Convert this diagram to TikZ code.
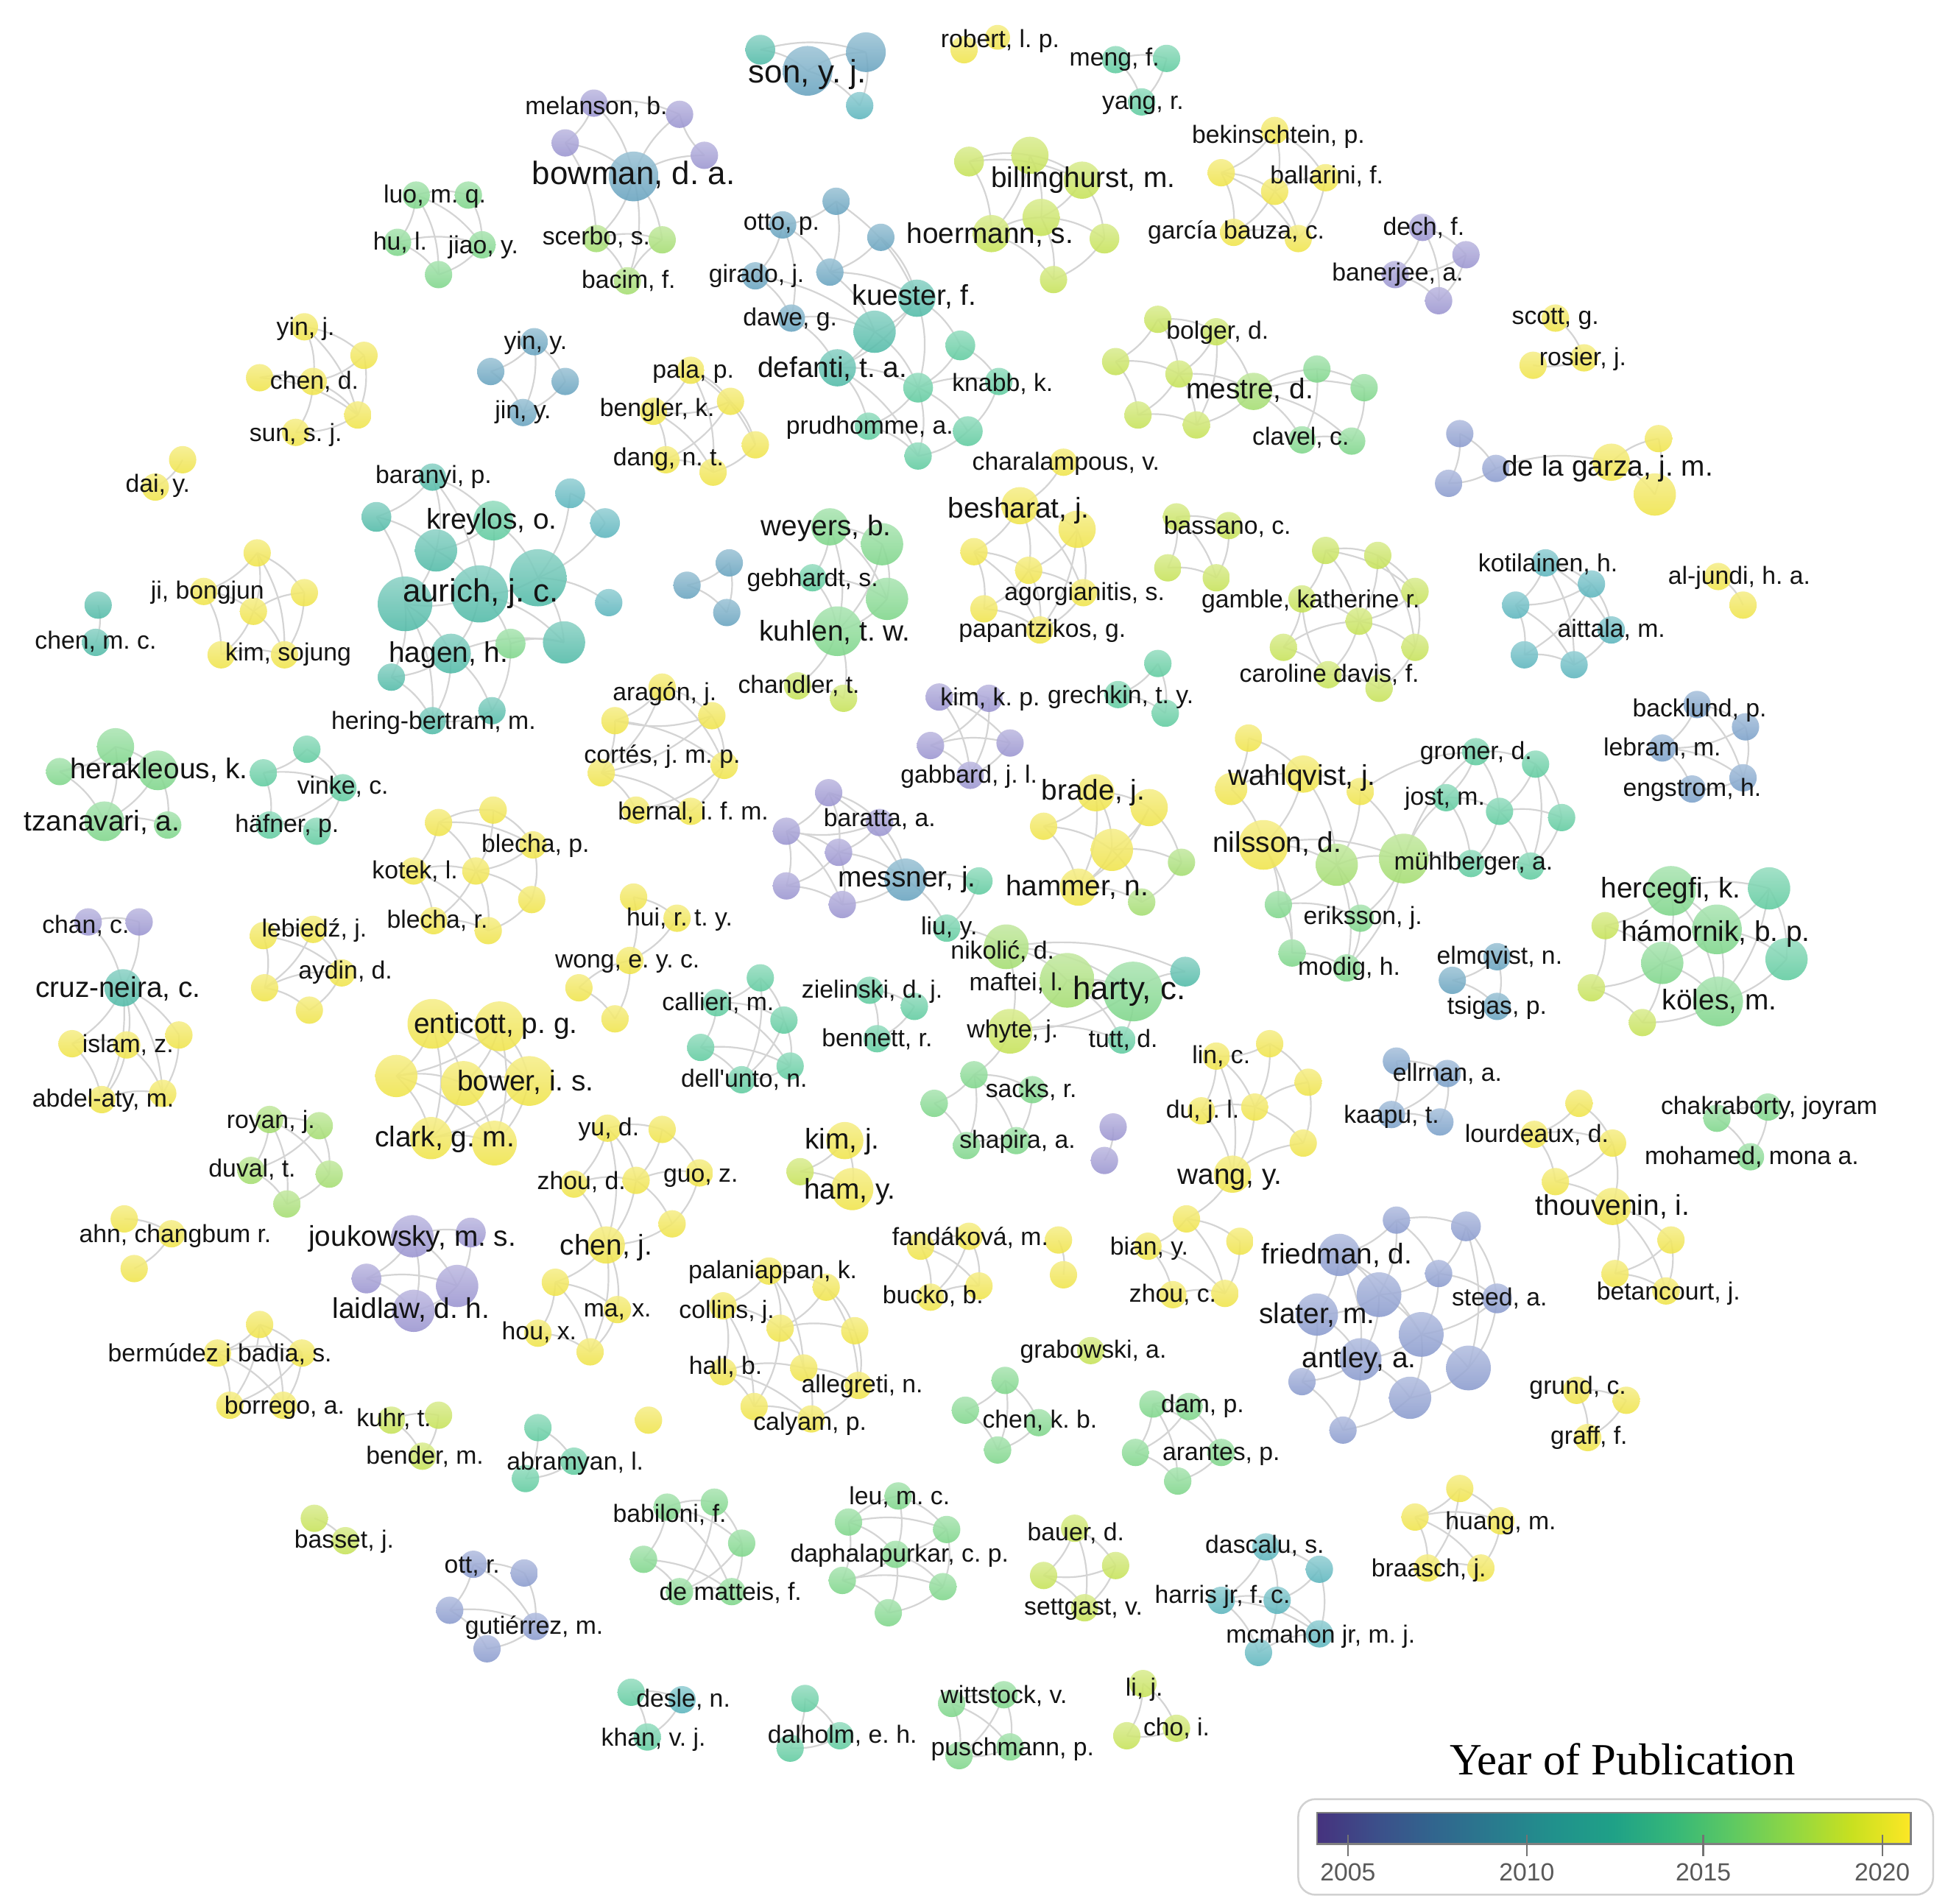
\documentclass[tikz,border=0pt]{standalone}
\usepackage{fontspec}
\newfontfamily\lsans{Liberation Sans}
\newfontfamily\lserif{Liberation Serif}
\pgfdeclarelayer{bg}
\pgfsetlayers{bg,main}
\definecolor{cP}{HTML}{9A94D0}
\definecolor{cSB}{HTML}{8A9BCE}
\definecolor{cB}{HTML}{7AA0C9}
\definecolor{cST}{HTML}{67A3BF}
\definecolor{cTB}{HTML}{5BB5BD}
\definecolor{cT}{HTML}{50BAA7}
\definecolor{cTG}{HTML}{5FCB9F}
\definecolor{cG}{HTML}{7ED68A}
\definecolor{cLG}{HTML}{A4DD70}
\definecolor{cL}{HTML}{C6E257}
\definecolor{cY}{HTML}{F0E44A}
\definecolor{vA}{HTML}{46327E}
\definecolor{vB}{HTML}{3C4F8A}
\definecolor{vC}{HTML}{31668E}
\definecolor{vD}{HTML}{297B8E}
\definecolor{vE}{HTML}{21918C}
\definecolor{vF}{HTML}{1FA187}
\definecolor{vG}{HTML}{35B779}
\definecolor{vH}{HTML}{5EC962}
\definecolor{vI}{HTML}{90D743}
\definecolor{vJ}{HTML}{C8E020}
\definecolor{vK}{HTML}{FDE725}
\pgfdeclarehorizontalshading{viridis}{100bp}{color(0bp)=(vA); color(25bp)=(vA); color(30bp)=(vB); color(35bp)=(vC); color(40bp)=(vD); color(45bp)=(vE); color(50bp)=(vF); color(55bp)=(vG); color(60bp)=(vH); color(65bp)=(vI); color(70bp)=(vJ); color(75bp)=(vK); color(100bp)=(vK)}
\newcommand\bb[4]{\node[bub,top color=#3!65!white,bottom color=#3,minimum size={2*#4pt}] (#1) at (#2) {};}
\newcommand\lb[4][lab]{\node[#1] (#2) at (#3) {#4};}
\newcommand\ee[1]{\foreach \a/\b in {#1} \draw[edge] (\a.center) to[bend left=16] (\b.center);}
\begin{document}
\frenchspacing
\begin{tikzpicture}[x=1pt,y=-1pt,
  bub/.style={circle,draw=none,inner sep=0pt,fill opacity=0.88},
  edge/.style={draw=black!17,line width=1.3pt},
  lab/.style={font=\lsans\fontsize{20}{20}\selectfont,text=black!92,inner sep=0pt,text height=14.4pt,text depth=4.2pt},
  labm/.style={lab,font=\lsans\fontsize{23}{23}\selectfont,text height=16.6pt,text depth=4.8pt},
  labl/.style={lab,font=\lsans\fontsize{26}{26}\selectfont,text height=18.7pt,text depth=5.5pt}]
\begin{pgfonlayer}{bg}
\fill[white] (0,0) rectangle (1568,1532);
\end{pgfonlayer}
\useasboundingbox (0,0) rectangle (1568,1532);
% ---------- bubbles ----------
\bb{son1}{612,40}{cT}{12}\bb{son2}{650,57}{cST}{20}\bb{son3}{697,42}{cST}{16}\bb{son4}{692,85}{cTB}{11}
\bb{rob1}{776,40}{cY}{11}\bb{rob2}{803,30}{cY}{10}
\bb{meng1}{898,48}{cTG}{11}\bb{meng2}{939,47}{cTG}{11}\bb{meng3}{919,82}{cTG}{11}
\bb{mel1}{478,83}{cP}{11}\bb{mel2}{455,115}{cP}{11}\bb{mel3}{510,142}{cST}{20}\bb{mel4}{567,125}{cP}{11}\bb{mel5}{547,92}{cP}{11}
\bb{mel6}{480,192}{cLG}{11}\bb{mel7}{505,226}{cLG}{11}\bb{mel8}{533,193}{cLG}{11}
\bb{luo1}{335,157}{cG}{11}\bb{luo2}{377,157}{cG}{11}\bb{luo3}{320,195}{cG}{11}\bb{luo4}{388,197}{cG}{11}\bb{luo5}{353,221}{cG}{11}
\bb{yj1}{245,263}{cY}{11}\bb{yj2}{293,286}{cY}{11}\bb{yj3}{209,304}{cY}{11}\bb{yj4}{252,307}{cY}{11}\bb{yj5}{288,334}{cY}{11}\bb{yj6}{238,348}{cY}{11}
\bb{yy1}{430,275}{cST}{11}\bb{yy2}{395,299}{cST}{11}\bb{yy3}{455,307}{cST}{11}\bb{yy4}{421,332}{cST}{11}
\bb{dai1}{147,370}{cY}{11}\bb{dai2}{125,392}{cY}{11}
\bb{ku1}{673,162}{cST}{11}\bb{ku2}{630,181}{cST}{11}\bb{ku3}{709,191}{cST}{11}\bb{ku4}{608,222}{cST}{11}\bb{ku5}{668,219}{cST}{11}
\bb{ku6}{738,240}{cT}{15}\bb{ku7}{637,256}{cST}{11}\bb{ku8}{704,267}{cT}{17}\bb{ku9}{674,296}{cT}{15}\bb{ku10}{773,278}{cTG}{12}
\bb{ku11}{739,312}{cTG}{12}\bb{ku12}{804,307}{cTG}{11}\bb{ku13}{699,343}{cTG}{11}\bb{ku14}{779,347}{cTG}{12}\bb{ku15}{739,367}{cTG}{11}
\bb{pa1}{556,298}{cY}{11}\bb{pa2}{588,323}{cY}{11}\bb{pa3}{526,331}{cY}{11}\bb{pa4}{608,358}{cY}{11}\bb{pa5}{536,370}{cY}{11}\bb{pa6}{574,380}{cY}{11}
\bb{bi1}{780,130}{cL}{12}\bb{bi2}{829,125}{cL}{15}\bb{bi3}{871,145}{cL}{15}\bb{bi4}{798,188}{cL}{15}\bb{bi5}{838,175}{cL}{15}\bb{bi6}{889,192}{cL}{12}\bb{bi7}{848,225}{cL}{11}
\bb{be1}{1026,105}{cY}{11}\bb{be2}{983,139}{cY}{11}\bb{be3}{1026,154}{cY}{11}\bb{be4}{1067,143}{cY}{11}\bb{be5}{993,187}{cY}{11}\bb{be6}{1045,192}{cY}{11}
\bb{de1}{1145,183}{cP}{11}\bb{de2}{1180,205}{cP}{11}\bb{de3}{1123,221}{cP}{11}\bb{de4}{1158,242}{cP}{11}
\bb{sc1}{1252,256}{cY}{11}\bb{sc2}{1275,288}{cY}{11}\bb{sc3}{1234,294}{cY}{11}
\bb{ga1}{1175,349}{cSB}{11}\bb{ga2}{1204,377}{cSB}{11}\bb{ga3}{1166,389}{cSB}{11}\bb{ga4}{1297,372}{cY}{15}\bb{ga5}{1335,353}{cY}{11}\bb{ga6}{1332,398}{cY}{17}
\bb{mo1}{932,257}{cL}{11}\bb{mo2}{979,267}{cL}{11}\bb{mo3}{898,291}{cL}{11}\bb{mo4}{949,301}{cL}{11}\bb{mo5}{1009,315}{cLG}{15}\bb{mo6}{916,334}{cL}{11}
\bb{mo7}{963,342}{cL}{11}\bb{mo8}{1060,297}{cG}{11}\bb{mo9}{1098,312}{cG}{11}\bb{mo10}{1048,354}{cG}{11}\bb{mo11}{1088,355}{cG}{11}
\bb{ch1}{856,372}{cY}{11}
\bb{au1}{348,384}{cT}{11}\bb{au2}{303,416}{cT}{12}\bb{au3}{397,419}{cTG}{16}\bb{au4}{459,397}{cTB}{12}\bb{au5}{487,421}{cTB}{12}\bb{au6}{351,443}{cT}{17}
\bb{au7}{433,465}{cT}{23}\bb{au8}{386,478}{cT}{23}\bb{au9}{326,486}{cT}{22}\bb{au10}{490,485}{cTB}{11}\bb{au11}{411,518}{cG}{12}\bb{au12}{363,526}{cT}{16}
\bb{au13}{454,517}{cT}{17}\bb{au14}{315,545}{cT}{11}\bb{au15}{396,572}{cT}{11}\bb{au16}{348,580}{cT}{11}
\bb{ji1}{207,445}{cY}{11}\bb{ji2}{164,476}{cY}{11}\bb{ji3}{204,492}{cY}{11}\bb{ji4}{245,477}{cY}{11}\bb{ji5}{178,527}{cY}{11}\bb{ji6}{229,527}{cY}{11}
\bb{cm1}{79,487}{cT}{11}\bb{cm2}{77,517}{cT}{11}
\bb{he1}{93,601}{cG}{15}\bb{he2}{48,621}{cG}{11}\bb{he3}{127,620}{cG}{16}\bb{he4}{84,661}{cG}{16}\bb{he5}{135,664}{cG}{11}
\bb{vi1}{247,603}{cTG}{11}\bb{vi2}{212,622}{cTG}{11}\bb{vi3}{276,634}{cTG}{11}\bb{vi4}{217,664}{cTG}{11}\bb{vi5}{255,669}{cTG}{11}
\bb{bl1}{353,662}{cY}{11}\bb{bl2}{397,652}{cY}{11}\bb{bl3}{429,680}{cY}{11}\bb{bl4}{333,701}{cY}{11}\bb{bl5}{383,701}{cY}{11}\bb{bl6}{428,724}{cY}{11}\bb{bl7}{349,741}{cY}{11}\bb{bl8}{393,749}{cY}{11}
\bb{chn1}{71,742}{cP}{11}\bb{chn2}{112,742}{cP}{11}
\bb{le1}{212,753}{cY}{11}\bb{le2}{252,748}{cY}{11}\bb{le3}{213,795}{cY}{11}\bb{le4}{275,783}{cY}{11}\bb{le5}{249,813}{cY}{11}
\bb{cz1}{99,795}{cT}{15}\bb{cz2}{58,840}{cY}{11}\bb{cz3}{102,841}{cY}{11}\bb{cz4}{144,833}{cY}{11}\bb{cz5}{82,885}{cY}{11}\bb{cz6}{131,880}{cY}{11}
\bb{wo1}{510,722}{cY}{11}\bb{wo2}{545,739}{cY}{11}\bb{wo3}{466,795}{cY}{11}\bb{wo4}{507,773}{cY}{11}\bb{wo5}{495,820}{cY}{11}
\bb{en1}{348,824}{cY}{20}\bb{en2}{402,826}{cY}{20}\bb{en3}{319,866}{cY}{17}\bb{en4}{373,872}{cY}{18}\bb{en5}{426,870}{cY}{20}\bb{en6}{347,916}{cY}{17}\bb{en7}{398,920}{cY}{18}
\bb{ro1}{217,901}{cLG}{11}\bb{ro2}{257,906}{cLG}{11}\bb{ro3}{202,942}{cLG}{11}\bb{ro4}{265,945}{cLG}{11}\bb{ro5}{231,969}{cLG}{11}
\bb{ah1}{100,981}{cY}{11}\bb{ah2}{138,993}{cY}{11}\bb{ah3}{108,1021}{cY}{11}
\bb{jo1}{332,995}{cP}{17}\bb{jo2}{379,992}{cP}{12}\bb{jo3}{295,1029}{cP}{12}\bb{jo4}{368,1035}{cP}{17}\bb{jo5}{333,1055}{cP}{17}
\bb{bm1}{209,1066}{cY}{11}\bb{bm2}{175,1089}{cY}{11}\bb{bm3}{243,1089}{cY}{11}\bb{bm4}{185,1131}{cY}{11}\bb{bm5}{228,1131}{cY}{11}
\bb{kh1}{315,1143}{cL}{11}\bb{kh2}{353,1139}{cL}{11}\bb{kh3}{340,1172}{cL}{11}
\bb{ab1}{433,1149}{cTG}{11}\bb{ab2}{462,1176}{cTG}{11}\bb{ab3}{423,1190}{cTG}{11}
\bb{sy1}{522,1143}{cY}{11}
\bb{bt1}{253,1222}{cL}{11}\bb{bt2}{278,1240}{cL}{11}
\bb{ot1}{381,1259}{cSB}{11}\bb{ot2}{422,1266}{cSB}{11}\bb{ot3}{362,1296}{cSB}{11}\bb{ot4}{431,1309}{cSB}{11}\bb{ot5}{392,1327}{cSB}{11}
\bb{ds1}{508,1362}{cTG}{11}\bb{ds2}{549,1368}{cTB}{11}\bb{ds3}{521,1398}{cTG}{11}
\bb{dh1}{648,1367}{cTG}{11}\bb{dh2}{676,1397}{cTG}{11}\bb{dh3}{636,1407}{cTG}{11}
\bb{wi1}{766,1371}{cG}{11}\bb{wi2}{808,1364}{cG}{11}\bb{wi3}{813,1406}{cG}{11}\bb{wi4}{772,1413}{cG}{11}
\bb{li1}{920,1355}{cL}{11}\bb{li2}{947,1391}{cL}{11}\bb{li3}{907,1397}{cL}{11}
\bb{ba1}{537,1213}{cG}{11}\bb{ba2}{575,1209}{cG}{11}\bb{ba3}{597,1242}{cG}{11}\bb{ba4}{518,1255}{cG}{11}\bb{ba5}{547,1281}{cG}{11}\bb{ba6}{589,1281}{cG}{11}
\bb{lu1}{683,1225}{cG}{11}\bb{lu2}{723,1204}{cG}{11}\bb{lu3}{762,1231}{cG}{11}\bb{lu4}{721,1251}{cG}{11}\bb{lu5}{678,1272}{cG}{11}\bb{lu6}{759,1277}{cG}{11}\bb{lu7}{715,1298}{cG}{11}
\bb{bu1}{865,1230}{cL}{11}\bb{bu2}{898,1260}{cL}{11}\bb{bu3}{840,1268}{cL}{11}\bb{bu4}{873,1294}{cL}{11}
\bb{dc1}{1019,1245}{cTB}{11}\bb{dc2}{983,1288}{cTB}{11}\bb{dc3}{1028,1288}{cTB}{11}\bb{dc4}{1062,1263}{cTB}{11}\bb{dc5}{1013,1330}{cTB}{11}\bb{dc6}{1062,1315}{cTB}{11}
\bb{hu1}{1175,1198}{cY}{11}\bb{hu2}{1139,1221}{cY}{11}\bb{hu3}{1208,1224}{cY}{11}\bb{hu4}{1149,1262}{cY}{11}\bb{hu5}{1192,1262}{cY}{11}
\bb{gr1}{1269,1119}{cY}{11}\bb{gr2}{1309,1127}{cY}{11}\bb{gr3}{1278,1157}{cY}{11}
\bb{fr1}{1124,982}{cSB}{11}\bb{fr2}{1180,987}{cSB}{12}\bb{fr3}{1078,1010}{cSB}{17}\bb{fr4}{1158,1025}{cSB}{11}\bb{fr5}{1110,1042}{cSB}{18}
\bb{fr6}{1205,1045}{cSB}{12}\bb{fr7}{1060,1058}{cSB}{17}\bb{fr8}{1144,1074}{cSB}{18}\bb{fr9}{1095,1094}{cSB}{17}\bb{fr10}{1182,1101}{cSB}{18}
\bb{fr11}{1048,1112}{cSB}{11}\bb{fr12}{1135,1125}{cSB}{17}\bb{fr13}{1081,1151}{cSB}{11}
\bb{lo1}{1271,888}{cY}{11}\bb{lo2}{1235,913}{cY}{11}\bb{lo3}{1298,920}{cY}{11}\bb{lo4}{1252,951}{cY}{11}\bb{lo5}{1298,971}{cY}{15}\bb{lo6}{1345,998}{cY}{11}\bb{lo7}{1300,1025}{cY}{11}\bb{lo8}{1341,1039}{cY}{11}
\bb{ck1}{1382,900}{cG}{11}\bb{ck2}{1423,891}{cG}{11}\bb{ck3}{1409,931}{cG}{11}
\bb{el1}{1124,854}{cB}{11}\bb{el2}{1165,864}{cB}{11}\bb{el3}{1120,897}{cB}{11}\bb{el4}{1159,903}{cB}{11}
\bb{em1}{1205,770}{cST}{11}\bb{em2}{1169,789}{cST}{11}\bb{em3}{1205,810}{cST}{11}
\bb{hc1}{1345,717}{cG}{20}\bb{hc2}{1424,715}{cTG}{17}\bb{hc3}{1292,745}{cL}{11}\bb{hc4}{1382,748}{cG}{20}\bb{hc5}{1338,775}{cG}{17}
\bb{hc6}{1438,772}{cTG}{17}\bb{hc7}{1281,795}{cL}{11}\bb{hc8}{1383,806}{cG}{20}\bb{hc9}{1322,823}{cL}{11}
\bb{bk1}{1366,567}{cB}{11}\bb{bk2}{1405,585}{cB}{11}\bb{bk3}{1338,602}{cB}{11}\bb{bk4}{1403,626}{cB}{11}\bb{bk5}{1362,635}{cB}{11}
\bb{kt1}{1244,453}{cTB}{11}\bb{kt2}{1281,470}{cTB}{11}\bb{kt3}{1220,487}{cTB}{11}\bb{kt4}{1297,507}{cTB}{11}\bb{kt5}{1227,527}{cTB}{11}\bb{kt6}{1267,535}{cTB}{11}
\bb{aj1}{1383,464}{cY}{11}\bb{aj2}{1403,487}{cY}{11}
\bb{gm1}{1067,443}{cL}{11}\bb{gm2}{1109,447}{cL}{11}\bb{gm3}{1139,476}{cL}{11}\bb{gm4}{1094,500}{cL}{11}\bb{gm5}{1139,521}{cL}{11}
\bb{gm6}{1069,543}{cL}{11}\bb{gm7}{1110,554}{cL}{11}\bb{gm8}{1048,482}{cL}{11}\bb{gm9}{1033,521}{cL}{11}
\bb{bs1}{947,416}{cL}{11}\bb{bs2}{989,423}{cL}{11}\bb{bs3}{940,457}{cL}{11}\bb{bs4}{979,465}{cL}{11}
\bb{wy1}{668,424}{cG}{15}\bb{wy2}{710,438}{cG}{17}\bb{wy3}{654,465}{cTG}{11}\bb{wy4}{714,482}{cG}{17}\bb{wy5}{674,508}{cG}{20}\bb{wy6}{642,552}{cL}{11}\bb{wy7}{679,562}{cL}{11}
\bb{tr1}{587,453}{cST}{11}\bb{tr2}{553,471}{cST}{11}\bb{tr3}{585,493}{cST}{11}
\bb{bh1}{821,407}{cY}{15}\bb{bh2}{867,426}{cY}{15}\bb{bh3}{784,444}{cY}{11}\bb{bh4}{828,459}{cY}{11}\bb{bh5}{872,477}{cY}{11}\bb{bh6}{792,490}{cY}{11}\bb{bh7}{837,507}{cY}{11}
\bb{gk1}{932,534}{cTG}{11}\bb{gk2}{900,559}{cTG}{11}\bb{gk3}{938,574}{cTG}{11}
\bb{kp1}{756,561}{cP}{11}\bb{kp2}{796,562}{cP}{11}\bb{kp3}{749,600}{cP}{11}\bb{kp4}{813,598}{cP}{11}\bb{kp5}{781,624}{cP}{11}
\bb{ar1}{533,553}{cY}{11}\bb{ar2}{573,576}{cY}{11}\bb{ar3}{495,580}{cY}{11}\bb{ar4}{484,622}{cY}{11}\bb{ar5}{583,616}{cY}{11}\bb{ar6}{512,652}{cY}{11}\bb{ar7}{556,653}{cY}{11}
\bb{br1}{667,638}{cP}{11}\bb{br2}{708,662}{cP}{11}\bb{br3}{633,669}{cP}{11}\bb{br4}{675,686}{cP}{11}\bb{br5}{729,708}{cST}{17}
\bb{br6}{633,713}{cP}{11}\bb{br7}{678,728}{cP}{11}\bb{br8}{788,709}{cTG}{11}\bb{br9}{762,747}{cTG}{11}
\bb{bd1}{882,638}{cY}{15}\bb{bd2}{925,650}{cY}{15}\bb{bd3}{840,665}{cY}{11}\bb{bd4}{895,684}{cY}{17}\bb{bd5}{951,694}{cLG}{11}\bb{bd6}{868,714}{cY}{15}\bb{bd7}{919,726}{cLG}{11}
\bb{ni1}{1005,594}{cY}{11}\bb{ni2}{991,635}{cY}{13}\bb{ni3}{1049,623}{cY}{15}\bb{ni4}{1095,637}{cY}{11}\bb{ni5}{1017,680}{cY}{20}\bb{ni6}{1076,696}{cLG}{17}
\bb{ni7}{1130,691}{cLG}{20}\bb{ni8}{1029,728}{cG}{11}\bb{ni9}{1095,739}{cG}{11}\bb{ni10}{1040,767}{cG}{11}\bb{ni11}{1084,779}{cG}{11}
\bb{go1}{1188,605}{cTG}{11}\bb{go2}{1236,615}{cTG}{11}\bb{go3}{1164,642}{cTG}{11}\bb{go4}{1207,653}{cTG}{11}\bb{go5}{1257,658}{cTG}{11}\bb{go6}{1184,695}{cTG}{11}\bb{go7}{1232,697}{cTG}{11}
\bb{ha1}{810,762}{cLG}{18}\bb{ha2}{859,789}{cLG}{22}\bb{ha3}{912,798}{cG}{24}\bb{ha4}{954,782}{cT}{12}\bb{ha5}{813,830}{cL}{18}\bb{ha6}{903,837}{cTG}{11}
\bb{sk1}{784,865}{cG}{11}\bb{sk2}{752,888}{cG}{11}\bb{sk3}{831,877}{cG}{11}\bb{sk4}{778,922}{cG}{11}\bb{sk5}{818,918}{cG}{11}
\bb{pp1}{896,907}{cP}{11}\bb{pp2}{889,934}{cP}{11}
\bb{zi1}{700,797}{cTG}{11}\bb{zi2}{736,810}{cTG}{11}\bb{zi3}{706,836}{cTG}{11}
\bb{ca1}{612,787}{cTG}{11}\bb{ca2}{577,807}{cTG}{11}\bb{ca3}{631,821}{cTG}{11}\bb{ca4}{564,843}{cTG}{11}\bb{ca5}{636,858}{cTG}{11}\bb{ca6}{597,869}{cTG}{11}
\bb{kj1}{680,918}{cY}{15}\bb{kj2}{644,943}{cL}{11}\bb{kj3}{686,957}{cY}{17}
\bb{gu1}{489,908}{cY}{11}\bb{gu2}{533,909}{cY}{11}\bb{gu3}{462,953}{cY}{11}\bb{gu4}{512,950}{cY}{11}\bb{gu5}{563,944}{cY}{11}\bb{gu6}{541,985}{cY}{11}
\bb{gu7}{488,1002}{cY}{15}\bb{gu8}{447,1032}{cY}{11}\bb{gu9}{497,1054}{cY}{11}\bb{gu10}{433,1073}{cY}{11}\bb{gu11}{475,1088}{cY}{11}
\bb{fa1}{741,1003}{cY}{11}\bb{fa2}{780,995}{cY}{11}\bb{fa3}{852,998}{cY}{11}\bb{fa4}{856,1026}{cY}{11}\bb{fa5}{749,1044}{cY}{11}\bb{fa6}{788,1035}{cY}{11}
\bb{pl1}{619,1023}{cY}{11}\bb{pl2}{665,1036}{cY}{11}\bb{pl3}{582,1051}{cY}{11}\bb{pl4}{628,1069}{cY}{11}\bb{pl5}{688,1071}{cY}{11}
\bb{pl6}{582,1104}{cY}{11}\bb{pl7}{647,1101}{cY}{11}\bb{pl8}{691,1115}{cY}{11}\bb{pl9}{607,1132}{cY}{11}\bb{pl10}{653,1142}{cY}{11}
\bb{gb1}{878,1087}{cL}{11}
\bb{kb1}{809,1111}{cG}{11}\bb{kb2}{777,1135}{cG}{11}\bb{kb3}{836,1145}{cG}{11}\bb{kb4}{803,1167}{cG}{11}
\bb{dm1}{928,1130}{cG}{11}\bb{dm2}{957,1132}{cG}{11}\bb{dm3}{914,1169}{cG}{11}\bb{dm4}{983,1169}{cG}{11}\bb{dm5}{948,1192}{cG}{11}
\bb{lw1}{1022,840}{cY}{11}\bb{lw2}{979,850}{cY}{11}\bb{lw3}{967,894}{cY}{11}\bb{lw4}{1010,891}{cY}{11}\bb{lw5}{992,945}{cY}{15}\bb{lw6}{1053,871}{cY}{11}\bb{lw7}{1049,920}{cY}{11}
\bb{bn1}{955,981}{cY}{11}\bb{bn2}{924,1003}{cY}{11}\bb{bn3}{998,999}{cY}{11}\bb{bn4}{944,1042}{cY}{11}\bb{bn5}{986,1041}{cY}{11}
% ---------- connectors ----------
\begin{pgfonlayer}{bg}
\ee{son1/son2,son2/son3,son2/son4,son3/son4,son1/son3}
\ee{rob1/rob2,meng1/meng2,meng1/meng3,meng2/meng3}
\ee{mel1/mel2,mel1/mel3,mel2/mel3,mel3/mel4,mel3/mel5,mel1/mel5,mel4/mel5,mel3/mel6,mel3/mel7,mel3/mel8,mel6/mel7,mel6/mel8,mel7/mel8,mel2/mel6}
\ee{luo1/luo2,luo1/luo3,luo1/luo4,luo3/luo5,luo4/luo5,luo2/luo4,luo1/luo5,luo3/luo4}
\ee{yj1/yj4,yj1/yj5,yj2/yj4,yj2/yj5,yj3/yj4,yj3/yj5,yj4/yj5,yj4/yj6,yj5/yj6,yj1/yj2}
\ee{yy1/yy2,yy1/yy4,yy2/yy4,yy3/yy4,yy1/yy3,dai1/dai2}
\ee{ku1/ku2,ku1/ku5,ku1/ku6,ku2/ku4,ku2/ku5,ku2/ku7,ku3/ku6,ku3/ku5,ku4/ku7,ku4/ku8,ku5/ku8,ku5/ku6,ku6/ku8,ku6/ku9,ku6/ku10,ku7/ku8,ku7/ku9,ku8/ku9,ku8/ku11,ku9/ku13,ku9/ku11,ku10/ku11,ku10/ku12,ku11/ku12,ku11/ku13,ku11/ku14,ku12/ku14,ku13/ku15,ku14/ku15,ku11/ku15,ku6/ku11,ku9/ku15}
\ee{pa1/pa2,pa1/pa3,pa1/pa4,pa2/pa3,pa2/pa4,pa2/pa5,pa3/pa5,pa3/pa6,pa4/pa6,pa5/pa6,pa1/pa6}
\ee{bi1/bi2,bi2/bi3,bi1/bi4,bi2/bi5,bi3/bi5,bi4/bi5,bi5/bi6,bi3/bi6,bi4/bi7,bi5/bi7,bi6/bi7,bi1/bi3,bi2/bi4}
\ee{be1/be2,be1/be3,be1/be4,be2/be3,be2/be5,be3/be4,be3/be5,be3/be6,be4/be6,be5/be6,be2/be6}
\ee{de1/de2,de1/de3,de1/de4,de2/de3,de2/de4,de3/de4,sc1/sc2,sc2/sc3}
\ee{ga1/ga2,ga2/ga3,ga1/ga3,ga2/ga4,ga4/ga5,ga4/ga6,ga5/ga6}
\ee{mo1/mo2,mo1/mo3,mo1/mo4,mo2/mo4,mo2/mo5,mo3/mo4,mo3/mo6,mo4/mo5,mo4/mo6,mo4/mo7,mo5/mo7,mo6/mo7,mo5/mo8,mo5/mo9,mo5/mo10,mo5/mo11,mo8/mo9,mo9/mo11,mo10/mo11,mo8/mo10,mo2/mo7}
\ee{au1/au2,au1/au3,au1/au6,au1/au8,au2/au6,au2/au9,au3/au6,au3/au7,au3/au8,au4/au5,au4/au7,au5/au7,au6/au8,au6/au9,au7/au8,au7/au10,au7/au13,au8/au9,au8/au11,au8/au12,au8/au13,au9/au12,au9/au14,au11/au13,au12/au13,au12/au14,au12/au15,au12/au16,au14/au16,au15/au16,au9/au16,au11/au15}
\ee{ji1/ji2,ji1/ji3,ji1/ji4,ji2/ji3,ji3/ji4,ji3/ji5,ji3/ji6,ji4/ji6,ji5/ji6,ji2/ji5,ji1/ji6,cm1/cm2}
\ee{he1/he2,he1/he3,he1/he4,he2/he4,he3/he4,he3/he5,he4/he5,he2/he3}
\ee{vi1/vi2,vi1/vi3,vi2/vi4,vi2/vi3,vi3/vi5,vi4/vi5,vi3/vi4}
\ee{bl1/bl2,bl1/bl4,bl1/bl5,bl2/bl3,bl2/bl5,bl3/bl5,bl3/bl6,bl4/bl5,bl4/bl7,bl5/bl6,bl5/bl7,bl5/bl8,bl6/bl8,bl7/bl8,bl1/bl3,bl4/bl8}
\ee{chn1/chn2,chn1/cz1,chn2/cz1}
\ee{le1/le2,le1/le3,le2/le4,le3/le5,le4/le5,le1/le4,le2/le3,le3/le4}
\ee{cz1/cz2,cz1/cz3,cz1/cz4,cz1/cz5,cz1/cz6,cz2/cz3,cz2/cz5,cz3/cz5,cz3/cz6,cz4/cz6,cz5/cz6}
\ee{wo1/wo2,wo1/wo4,wo2/wo4,wo3/wo4,wo4/wo5,wo3/wo5}
\ee{en1/en2,en1/en3,en1/en4,en1/en5,en2/en4,en2/en5,en2/en3,en3/en4,en3/en6,en3/en7,en4/en5,en4/en6,en4/en7,en5/en7,en6/en7,en1/en6,en2/en7,en5/en6}
\ee{ro1/ro2,ro1/ro3,ro1/ro4,ro2/ro3,ro2/ro4,ro3/ro5,ro4/ro5,ro1/ro5,ah1/ah2,ah2/ah3}
\ee{jo1/jo2,jo1/jo3,jo1/jo4,jo1/jo5,jo2/jo4,jo3/jo5,jo4/jo5,jo3/jo4}
\ee{bm1/bm2,bm1/bm3,bm2/bm3,bm2/bm4,bm2/bm5,bm3/bm4,bm3/bm5,bm4/bm5,bm1/bm4,bm1/bm5}
\ee{kh1/kh3,kh2/kh3,kh1/kh2,ab1/ab2,ab1/ab3,ab2/ab3,bt1/bt2}
\ee{ot1/ot2,ot1/ot3,ot1/ot4,ot2/ot4,ot3/ot4,ot3/ot5,ot4/ot5}
\ee{ds1/ds2,ds1/ds3,ds2/ds3,dh1/dh2,dh1/dh3,dh2/dh3}
\ee{wi1/wi2,wi2/wi3,wi1/wi3,wi1/wi4,wi3/wi4,wi2/wi4,li1/li2,li1/li3,li2/li3}
\ee{ba1/ba2,ba1/ba4,ba2/ba3,ba1/ba3,ba3/ba6,ba4/ba5,ba5/ba6,ba4/ba6,ba2/ba5,ba1/ba6,ba3/ba5}
\ee{lu1/lu2,lu1/lu4,lu2/lu4,lu3/lu4,lu4/lu5,lu4/lu6,lu4/lu7,lu2/lu3,lu1/lu5,lu3/lu6,lu5/lu7,lu6/lu7,lu1/lu3,lu5/lu6}
\ee{bu1/bu2,bu1/bu3,bu1/bu4,bu2/bu4,bu3/bu4,bu2/bu3}
\ee{dc1/dc2,dc1/dc3,dc1/dc4,dc2/dc3,dc2/dc5,dc3/dc5,dc3/dc6,dc4/dc6,dc5/dc6,dc4/dc3,dc2/dc6}
\ee{hu1/hu2,hu1/hu3,hu1/hu4,hu2/hu3,hu2/hu4,hu3/hu5,hu4/hu5,hu2/hu5,gr1/gr3,gr2/gr3,gr1/gr2}
\ee{fr1/fr2,fr1/fr3,fr1/fr4,fr1/fr5,fr2/fr4,fr2/fr6,fr3/fr5,fr3/fr7,fr4/fr5,fr4/fr6,fr4/fr8,fr5/fr7,fr5/fr8,fr5/fr9,fr6/fr8,fr6/fr10,fr7/fr9,fr7/fr11,fr8/fr9,fr8/fr10,fr8/fr12,fr9/fr11,fr9/fr12,fr9/fr13,fr10/fr12,fr11/fr13,fr12/fr13,fr3/fr8,fr2/fr10,fr3/fr9}
\ee{lo1/lo2,lo1/lo3,lo2/lo4,lo3/lo4,lo2/lo3,lo3/lo5,lo4/lo5,lo5/lo6,lo5/lo7,lo5/lo8,lo6/lo8,lo7/lo8,lo6/lo7}
\ee{ck1/ck2,ck2/ck3,ck1/ck3,el1/el2,el1/el3,el2/el3,el2/el4,el3/el4,em1/em2,em1/em3,em2/em3}
\ee{hc1/hc2,hc1/hc4,hc1/hc5,hc1/hc3,hc2/hc4,hc2/hc6,hc4/hc5,hc4/hc6,hc4/hc8,hc5/hc8,hc5/hc7,hc5/hc9,hc6/hc8,hc7/hc9,hc8/hc9,hc3/hc7,hc3/hc5,hc2/hc8,hc1/hc8}
\ee{bk1/bk2,bk1/bk3,bk2/bk4,bk3/bk5,bk4/bk5,bk1/bk4,bk2/bk3,bk3/bk4}
\ee{kt1/kt2,kt1/kt3,kt1/kt4,kt2/kt3,kt2/kt4,kt3/kt5,kt4/kt6,kt5/kt6,kt3/kt6,kt1/kt6,kt2/kt5,aj1/aj2}
\ee{gm1/gm2,gm1/gm8,gm1/gm4,gm2/gm3,gm2/gm4,gm3/gm4,gm3/gm5,gm4/gm5,gm4/gm6,gm4/gm7,gm5/gm7,gm6/gm7,gm8/gm9,gm8/gm4,gm9/gm6,gm6/gm8,gm2/gm5,gm1/gm3,gm9/gm4}
\ee{bs1/bs2,bs1/bs3,bs2/bs4,bs3/bs4,bs1/bs4}
\ee{wy1/wy2,wy1/wy3,wy1/wy4,wy1/wy5,wy2/wy4,wy2/wy5,wy3/wy5,wy4/wy5,wy5/wy6,wy5/wy7,wy6/wy7,wy3/wy4,tr1/tr2,tr2/tr3,tr1/tr3}
\ee{bh1/bh2,bh1/bh3,bh1/bh4,bh1/bh5,bh2/bh4,bh2/bh5,bh3/bh4,bh3/bh6,bh4/bh5,bh4/bh6,bh4/bh7,bh5/bh7,bh6/bh7,bh3/bh7,bh2/bh7,ch1/bh1}
\ee{gk1/gk2,gk2/gk3,gk1/gk3}
\ee{kp1/kp5,kp2/kp5,kp3/kp4,kp1/kp4,kp2/kp3,kp3/kp5,kp4/kp5,kp1/kp2}
\ee{ar1/ar2,ar1/ar3,ar1/ar4,ar1/ar5,ar2/ar5,ar2/ar3,ar3/ar4,ar4/ar6,ar4/ar7,ar5/ar7,ar5/ar6,ar6/ar7,ar3/ar5,ar2/ar4}
\ee{br1/br2,br1/br3,br1/br4,br2/br4,br2/br5,br3/br4,br3/br6,br4/br5,br4/br6,br4/br7,br5/br7,br6/br7,br5/br8,br5/br9,br8/br9,br3/br7,br2/br3,br1/br5,br9/ha1}
\ee{bd1/bd2,bd1/bd3,bd1/bd4,bd1/bd6,bd2/bd4,bd2/bd5,bd3/bd4,bd3/bd6,bd4/bd6,bd4/bd7,bd4/bd5,bd5/bd7,bd6/bd7,bd2/bd6}
\ee{ni1/ni3,ni1/ni2,ni2/ni3,ni2/ni5,ni3/ni5,ni3/ni4,ni3/ni6,ni4/ni6,ni4/ni7,ni5/ni6,ni5/ni7,ni5/ni8,ni6/ni7,ni6/ni9,ni6/ni8,ni7/ni9,ni8/ni10,ni9/ni11,ni10/ni11,ni8/ni9,ni5/ni10,ni7/ni11,ni6/ni11}
\ee{go1/go2,go1/go3,go1/go4,go2/go4,go2/go5,go2/go7,go3/go4,go3/go6,go4/go6,go4/go7,go5/go7,go6/go7,go4/go5,ni7/go3,ni7/go6,ni7/go1,ni4/go1}
\ee{ha1/ha2,ha1/ha3,ha1/ha5,ha2/ha3,ha2/ha5,ha2/ha6,ha3/ha4,ha3/ha6,ha3/ha5,ha5/ha6,ha1/ha4,ha5/sk1}
\ee{sk1/sk2,sk1/sk3,sk1/sk4,sk3/sk5,sk4/sk5,sk1/sk5,sk2/sk4,pp1/pp2}
\ee{zi1/zi2,zi1/zi3,zi2/zi3}
\ee{ca1/ca2,ca1/ca3,ca2/ca3,ca2/ca4,ca2/ca5,ca3/ca5,ca3/ca6,ca4/ca6,ca5/ca6,ca4/ca5,ca1/ca6}
\ee{kj1/kj2,kj1/kj3,kj2/kj3}
\ee{gu1/gu2,gu1/gu3,gu1/gu4,gu2/gu5,gu2/gu4,gu3/gu4,gu3/gu7,gu4/gu5,gu4/gu6,gu5/gu6,gu6/gu7,gu4/gu7,gu7/gu8,gu7/gu9,gu8/gu10,gu8/gu9,gu9/gu11,gu10/gu11,gu8/gu11,gu7/gu11,gu1/gu7}
\ee{fa1/fa2,fa1/fa5,fa2/fa6,fa5/fa6,fa1/fa6,fa2/fa5,fa3/fa4}
\ee{pl1/pl2,pl1/pl3,pl1/pl4,pl2/pl5,pl2/pl4,pl3/pl4,pl3/pl6,pl4/pl5,pl4/pl7,pl5/pl8,pl6/pl7,pl6/pl9,pl7/pl8,pl7/pl10,pl8/pl10,pl9/pl10,pl3/pl9,pl2/pl8,pl1/pl7,pl4/pl9,pl6/pl10}
\ee{kb1/kb2,kb1/kb3,kb1/kb4,kb2/kb4,kb3/kb4}
\ee{dm1/dm2,dm1/dm3,dm1/dm4,dm2/dm4,dm2/dm3,dm3/dm5,dm4/dm5,dm1/dm5}
\ee{lw1/lw2,lw1/lw4,lw1/lw6,lw2/lw3,lw2/lw4,lw3/lw4,lw3/lw5,lw4/lw5,lw4/lw6,lw4/lw7,lw5/lw7,lw6/lw7,lw2/lw5}
\ee{bn1/bn2,bn1/bn3,bn2/bn4,bn3/bn5,bn4/bn5,bn2/bn5,bn1/bn5,lw5/bn1}
\end{pgfonlayer}
% ---------- labels ----------
\lb[labl]{Lson}{650,60}{son, y. j.}
\lb{Lrob}{805,33}{robert, l. p.}
\lb{Lmeng}{897,48}{meng, f.}
\lb{Lyang}{920,83}{yang, r.}
\lb{Lmel}{480,87}{melanson, b.}
\lb[labl]{Lbow}{510,142}{bowman, d. a.}
\lb{Lluo}{350,158}{luo, m. q.}
\lb{Lhu}{322,196}{hu, l.}
\lb{Ljiao}{389,199}{jiao, y.}
\lb{Lscer}{480,192}{scerbo, s.}
\lb{Lbac}{506,227}{bacim, f.}
\lb{Lotto}{629,180}{otto, p.}
\lb{Lgir}{609,222}{girado, j.}
\lb[labm]{Lkue}{736,240}{kuester, f.}
\lb{Ldawe}{636,257}{dawe, g.}
\lb[labm]{Ldef}{670,298}{defanti, t. a.}
\lb{Lknabb}{807,310}{knabb, k.}
\lb{Lprud}{700,344}{prudhomme, a.}
\lb{Lpala}{558,299}{pala, p.}
\lb{Lbeng}{529,330}{bengler, k.}
\lb{Ldang}{538,370}{dang, n. t.}
\lb[labm]{Lbill}{872,145}{billinghurst, m.}
\lb[labm]{Lhoer}{797,190}{hoermann, s.}
\lb{Lbek}{1029,110}{bekinschtein, p.}
\lb{Lball}{1068,143}{ballarini, f.}
\lb{Lgarc}{995,187}{garcía bauza, c.}
\lb{Ldech}{1146,184}{dech, f.}
\lb{Lban}{1125,221}{banerjee, a.}
\lb{Lscott}{1252,256}{scott, g.}
\lb{Lros}{1274,289}{rosier, j.}
\lb[labm]{Lgarza}{1294,377}{de la garza, j. m.}
\lb{Lyinj}{246,265}{yin, j.}
\lb{Lchend}{253,308}{chen, d.}
\lb{Lsun}{238,350}{sun, s. j.}
\lb{Lyiny}{431,276}{yin, y.}
\lb{Ljin}{421,332}{jin, y.}
\lb{Lbolg}{980,268}{bolger, d.}
\lb[labm]{Lmest}{1006,315}{mestre, d.}
\lb{Lclav}{1047,353}{clavel, c.}
\lb{Lchar}{858,373}{charalampous, v.}
\lb{Ldai}{127,391}{dai, y.}
\lb{Lbara}{349,384}{baranyi, p.}
\lb[labm]{Lkrey}{396,420}{kreylos, o.}
\lb[labl]{Laur}{387,478}{aurich, j. c.}
\lb[labm]{Lhag}{361,527}{hagen, h.}
\lb{Lheri}{349,582}{hering-bertram, m.}
\lb{Lji}{167,477}{ji, bongjun}
\lb{Lkims}{232,527}{kim, sojung}
\lb{Lchmc}{77,517}{chen, m. c.}
\lb[labm]{Lwey}{665,425}{weyers, b.}
\lb{Lgeb}{654,467}{gebhardt, s.}
\lb[labm]{Lkuh}{672,510}{kuhlen, t. w.}
\lb{Lchand}{643,553}{chandler, t.}
\lb[labm]{Lbesh}{820,411}{besharat, j.}
\lb{Lagor}{873,478}{agorgianitis, s.}
\lb{Lpap}{839,508}{papantzikos, g.}
\lb{Lbass}{988,425}{bassano, c.}
\lb{Lgamb}{1055,484}{gamble, katherine r.}
\lb{Lcaro}{1070,544}{caroline davis, f.}
\lb{Lkoti}{1246,455}{kotilainen, h.}
\lb{Lalj}{1400,465}{al-jundi, h. a.}
\lb{Laitt}{1297,508}{aittala, m.}
\lb{Larag}{535,559}{aragón, j.}
\lb{Lcort}{533,609}{cortés, j. m. p.}
\lb{Lbern}{558,655}{bernal, i. f. m.}
\lb{Lkimkp}{797,563}{kim, k. p.}
\lb{Lgrech}{902,561}{grechkin, t. y.}
\lb{Lgabb}{780,625}{gabbard, j. l.}
\lb{Lback}{1368,572}{backlund, p.}
\lb{Lleb}{1338,603}{lebram, m.}
\lb{Leng}{1362,636}{engstrom, h.}
\lb{Lgrom}{1188,606}{gromer, d.}
\lb{Ljost}{1163,643}{jost, m.}
\lb[labm]{Lwahl}{1048,626}{wahlqvist, j.}
\lb[labm]{Lnils}{1028,680}{nilsson, d.}
\lb{Lmuhl}{1186,695}{mühlberger, a.}
\lb{Leri}{1097,739}{eriksson, j.}
\lb{Lmodig}{1086,780}{modig, h.}
\lb[labm]{Lherc}{1345,717}{hercegfi, k.}
\lb[labm]{Lhamo}{1381,752}{hámornik, b. p.}
\lb[labm]{Lkoles}{1384,807}{köles, m.}
\lb{Lelmq}{1207,771}{elmqvist, n.}
\lb{Ltsig}{1205,811}{tsigas, p.}
\lb[labm]{Lhera}{128,621}{herakleous, k.}
\lb[labm]{Ltzan}{82,663}{tzanavari, a.}
\lb{Lvink}{276,634}{vinke, c.}
\lb{Lhaf}{231,665}{häfner, p.}
\lb{Lblp}{431,681}{blecha, p.}
\lb{Lkot}{334,702}{kotek, l.}
\lb{Lblr}{352,742}{blecha, r.}
\lb{Lchan}{69,746}{chan, c.}
\lb{Llebi}{253,749}{lebiedź, j.}
\lb{Laydin}{278,783}{aydin, d.}
\lb[labm]{Lcruz}{95,797}{cruz-neira, c.}
\lb{Lislam}{103,842}{islam, z.}
\lb{Labdel}{83,886}{abdel-aty, m.}
\lb{Lbarat}{708,660}{baratta, a.}
\lb[labm]{Lmess}{730,708}{messner, j.}
\lb{Lhui}{547,740}{hui, r. t. y.}
\lb{Lliu}{764,747}{liu, y.}
\lb[labm]{Lbrade}{880,638}{brade, j.}
\lb[labm]{Lhamm}{867,715}{hammer, n.}
\lb{Lwong}{505,774}{wong, e. y. c.}
\lb{Lniko}{807,767}{nikolić, d.}
\lb{Lmaft}{818,792}{maftei, l.}
\lb[labl]{Lharty}{909,798}{harty, c.}
\lb{Lcall}{578,808}{callieri, m.}
\lb{Lziel}{702,798}{zielinski, d. j.}
\lb{Lbenn}{706,837}{bennett, r.}
\lb{Lwhyte}{815,830}{whyte, j.}
\lb{Ltutt}{904,838}{tutt, d.}
\lb{Ldell}{599,870}{dell'unto, n.}
\lb{Lsacks}{830,878}{sacks, r.}
\lb{Lshap}{819,919}{shapira, a.}
\lb[labm]{Lenti}{399,826}{enticott, p. g.}
\lb[labm]{Lbower}{423,872}{bower, i. s.}
\lb[labm]{Lclark}{358,917}{clark, g. m.}
\lb{Lroyan}{218,903}{royan, j.}
\lb{Lduval}{203,942}{duval, t.}
\lb{Lyu}{490,909}{yu, d.}
\lb{Lzhoud}{468,952}{zhou, d.}
\lb{Lguo}{564,946}{guo, z.}
\lb[labm]{Lkimj}{678,919}{kim, j.}
\lb[labm]{Lham}{684,959}{ham, y.}
\lb{Llin}{983,851}{lin, c.}
\lb{Ldu}{968,895}{du, j. l.}
\lb[labm]{Lwang}{990,947}{wang, y.}
\lb{Lellr}{1165,865}{ellrnan, a.}
\lb{Lkaapu}{1120,899}{kaapu, t.}
\lb{Llour}{1237,914}{lourdeaux, d.}
\lb{Lchak}{1424,892}{chakraborty, joyram}
\lb{Lmoh}{1410,932}{mohamed, mona a.}
\lb[labm]{Lthou}{1298,972}{thouvenin, i.}
\lb{Lbeta}{1343,1041}{betancourt, j.}
\lb{Lahn}{141,995}{ahn, changbum r.}
\lb[labm]{Ljouk}{332,997}{joukowsky, m. s.}
\lb[labm]{Llaid}{331,1055}{laidlaw, d. h.}
\lb[labm]{Lchenj}{488,1004}{chen, j.}
\lb{Lhou}{434,1073}{hou, x.}
\lb{Lma}{497,1055}{ma, x.}
\lb{Lfand}{781,997}{fandáková, m.}
\lb{Lbucko}{751,1044}{bucko, b.}
\lb{Lpalan}{622,1024}{palaniappan, k.}
\lb{Lcoll}{585,1056}{collins, j.}
\lb{Lhall}{584,1101}{hall, b.}
\lb{Lalle}{694,1116}{allegreti, n.}
\lb{Lcaly}{652,1146}{calyam, p.}
\lb{Lbian}{925,1005}{bian, y.}
\lb{Lzhouc}{944,1043}{zhou, c.}
\lb[labm]{Lfried}{1076,1011}{friedman, d.}
\lb{Lsteed}{1207,1046}{steed, a.}
\lb[labm]{Lslat}{1060,1059}{slater, m.}
\lb[labm]{Lantl}{1094,1095}{antley, a.}
\lb{Lberm}{177,1091}{bermúdez i badia, s.}
\lb{Lborr}{229,1133}{borrego, a.}
\lb{Lkuhr}{317,1143}{kuhr, t.}
\lb{Lbend}{342,1173}{bender, m.}
\lb{Labram}{463,1178}{abramyan, l.}
\lb{Lgrab}{880,1088}{grabowski, a.}
\lb{Lchkb}{837,1144}{chen, k. b.}
\lb{Ldam}{968,1132}{dam, p.}
\lb{Larant}{983,1170}{arantes, p.}
\lb{Lgrund}{1270,1117}{grund, c.}
\lb{Lgraff}{1279,1157}{graff, f.}
\lb{Lbasset}{277,1241}{basset, j.}
\lb{Lott}{380,1261}{ott, r.}
\lb{Lgut}{430,1310}{gutiérrez, m.}
\lb{Lbabi}{539,1220}{babiloni, f.}
\lb{Ldemat}{588,1283}{de matteis, f.}
\lb{Lleu}{724,1206}{leu, m. c.}
\lb{Ldaph}{724,1252}{daphalapurkar, c. p.}
\lb{Lbauer}{866,1235}{bauer, d.}
\lb{Lsett}{872,1295}{settgast, v.}
\lb{Ldasc}{1018,1245}{dascalu, s.}
\lb{Lharr}{984,1285}{harris jr, f. c.}
\lb{Lmcm}{1063,1317}{mcmahon jr, m. j.}
\lb{Lhuang}{1208,1226}{huang, m.}
\lb{Lbraa}{1150,1264}{braasch, j.}
\lb{Ldesle}{550,1369}{desle, n.}
\lb{Lkhan}{526,1400}{khan, v. j.}
\lb{Ldalh}{678,1398}{dalholm, e. h.}
\lb{Lwitt}{808,1366}{wittstock, v.}
\lb{Lpusch}{815,1408}{puschmann, p.}
\lb{Llij}{921,1360}{li, j.}
\lb{Lcho}{947,1392}{cho, i.}
% ---------- legend ----------
\node[font=\lserif\fontsize{36}{36}\selectfont,inner sep=0pt] (Ltitle) at (1306,1416) {Year of Publication};
\draw[black!18,line width=1.5pt,rounded corners=14pt] (1045,1448) rectangle (1556,1525);
\shade[shading=viridis] (1060,1459) rectangle (1538,1484);
\draw[black!50,line width=1.5pt] (1060,1459) rectangle (1538,1484);
\foreach \x/\y in {1085/2005,1229/2010,1371/2015,1515/2020}{
  \draw[black!55,line width=1.3pt] (\x,1477) -- (\x,1494);
  \node[font=\lsans\fontsize{20}{20}\selectfont,text=black!65,inner sep=0pt] (T\y) at (\x,1507) {\y};
}
\end{tikzpicture}
\end{document}
